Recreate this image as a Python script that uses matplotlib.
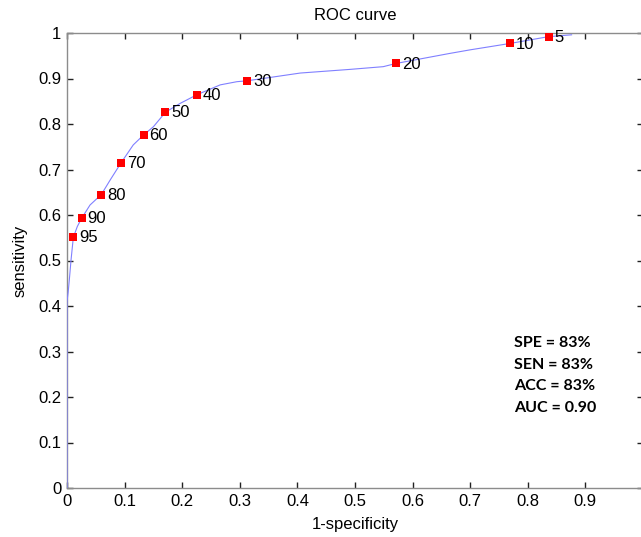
import matplotlib
matplotlib.use('Agg')
import matplotlib.pyplot as plt

plt.rcParams['font.family'] = ['Liberation Sans', 'DejaVu Sans']

# ROC curve
fpr = [0.0, 0.0, 0.002, 0.004, 0.007, 0.011, 0.018, 0.0255, 0.040, 0.0596,
       0.075, 0.094, 0.115, 0.133, 0.150, 0.171, 0.196, 0.225, 0.266, 0.295,
       0.313, 0.405, 0.491, 0.549, 0.571, 0.664, 0.700, 0.769, 0.836, 0.876]
tpr = [0.0, 0.41, 0.43, 0.457, 0.501, 0.551, 0.575, 0.593, 0.622, 0.645,
       0.677, 0.715, 0.754, 0.776, 0.794, 0.826, 0.845, 0.864, 0.886, 0.893,
       0.895, 0.912, 0.920, 0.926, 0.933, 0.955, 0.963, 0.977, 0.992, 0.996]

# threshold points
thr_labels = ['95', '90', '80', '70', '60', '50', '40', '30', '20', '10', '5']
thr_x = [0.011, 0.0255, 0.0596, 0.094, 0.133, 0.171, 0.225, 0.313, 0.571, 0.769, 0.836]
thr_y = [0.551, 0.593, 0.645, 0.715, 0.776, 0.826, 0.864, 0.895, 0.933, 0.977, 0.992]

stats = ['SPE = 83%', 'SEN = 83%', 'ACC = 83%', 'AUC = 0.90']

fig = plt.figure(figsize=(6.41, 5.37), dpi=100)
ax = fig.add_axes([67 / 641, 49 / 537, 576 / 641, 455 / 537])

ax.plot(fpr, tpr, color='#8080ff', lw=0.8, zorder=3)
ax.plot(thr_x, thr_y, 's', color='red', markersize=6, markeredgewidth=0, zorder=4)
for lab, x, y in zip(thr_labels, thr_x, thr_y):
    ax.annotate(lab, (x, y), xytext=(4.3, -0.5), textcoords='offset points',
                va='center', ha='left', fontsize=12)

ax.text(0.776, 0.333, '\n'.join(stats), fontsize=11.5, fontweight='bold',
        family=['Lato', 'DejaVu Sans'], va='top', ha='left', linespacing=1.68)

ax.set_xlim(0, 1)
ax.set_ylim(0, 1)
ax.set_xticks([i / 10 for i in range(10)])
ax.set_xticklabels(['0'] + ['0.%d' % i for i in range(1, 10)])
ax.set_yticks([i / 10 for i in range(11)])
ax.set_yticklabels(['0'] + ['0.%d' % i for i in range(1, 10)] + ['1'])
ax.tick_params(direction='in', top=True, right=True, length=4, width=1,
               labelsize=12, color='#222222', pad=4)
for s in ax.spines.values():
    s.set_color('#8c8c8c')
    s.set_linewidth(1)

ax.set_title('ROC curve', fontsize=12, pad=9)
ax.set_xlabel('1-specificity', fontsize=12, labelpad=6)
ax.set_ylabel('sensitivity', fontsize=12, labelpad=8)

fig.savefig('out.png', dpi=100)
